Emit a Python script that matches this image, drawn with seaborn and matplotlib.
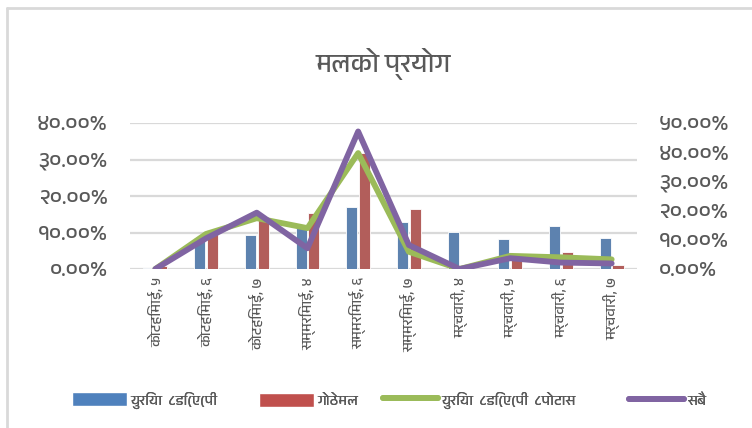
import warnings
warnings.filterwarnings("ignore")

import numpy as np
import pandas as pd
import matplotlib
matplotlib.use("Agg")
import matplotlib.pyplot as plt
import seaborn as sns
from matplotlib import font_manager
from matplotlib.ft2font import FT2Font
from matplotlib.patches import Patch
from matplotlib.lines import Line2D

# ── Data ───────────────────────────────────────────────────────────────────
categories = ["कोटहिमाई, ५", "कोटहिमाई, ६", "कोटहिमाई, ७",
              "सम्मरिमाई, ४", "सम्मरिमाई, ६", "सम्मरिमाई, ७",
              "मर्चवारी, ४", "मर्चवारी, ५", "मर्चवारी, ६", "मर्चवारी, ७"]
series_names = ["युरिया  ८डि(ए(पी", "गोठेमल", "युरिया  ८डि(ए(पी  ८पोटास", "सबै"]
urea_dap   = [0.3, 8.6, 9.4, 11.2, 17.0, 12.9, 10.1, 8.1, 11.8, 8.4]
gothemal   = [0.8, 10.7, 13.5, 15.4, 31.9, 16.5, 0.0, 3.0, 4.7, 1.2]
urea_dap_k = [0.0, 12.0, 17.4, 14.0, 39.7, 5.9, 0.0, 4.5, 4.0, 3.3]
sabai      = [0.0, 10.5, 19.3, 7.1, 47.1, 8.2, 0.0, 3.7, 2.2, 1.9]
left_ticks  = [0, 10, 20, 30, 40]
right_ticks = [0, 10, 20, 30, 40, 50]
title = "मलको प्रयोग"

COLORS = {"blue": "#4F81BD", "red": "#C0504D", "green": "#9BBB59",
          "purple": "#8064A2", "text": "#595959", "grid": "#D9D9D9"}

W, H = 752, 428


def find_dev_font():
    """Pick an installed font that has Devanagari glyphs."""
    names = []
    for f in font_manager.fontManager.ttflist:
        try:
            if 0x092E in FT2Font(f.fname).get_charmap():
                names.append(f.name)
        except Exception:
            pass
    names.sort(key=lambda n: ("Devanagari" not in n, n))
    return names[0] if names else "DejaVu Sans"


DEV_DIGITS = str.maketrans("0123456789", "०१२३४५६७८९")

def pct_label(v):
    return f"{v:.2f}%".translate(DEV_DIGITS)


sns.set_theme(style="white")
plt.rcParams["font.family"] = [find_dev_font(), "DejaVu Sans"]

df_bars = pd.DataFrame({
    "cat": categories * 2,
    "val": urea_dap + gothemal,
    "series": [series_names[0]] * len(categories) + [series_names[1]] * len(categories),
})

fig = plt.figure(figsize=(W / 100, H / 100), dpi=100)
ax = fig.add_axes([130 / W, 1 - 269 / H, 507 / W, 146 / H])

# ── Bars (primary axis) ────────────────────────────────────────────────────
sns.barplot(data=df_bars, x="cat", y="val", hue="series", order=categories,
            palette=[COLORS["blue"], COLORS["red"]], width=0.5, gap=0.12,
            edgecolor="white", linewidth=0.6, legend=False, ax=ax)
ax.set_ylim(0, 40)
ax.set_yticks(left_ticks)
ax.set_yticklabels([pct_label(t) for t in left_ticks], fontsize=16, color=COLORS["text"])
ax.yaxis.grid(True, color=COLORS["grid"], linewidth=1.6)
ax.set_axisbelow(True)
ax.set_xlabel(""); ax.set_ylabel("")
ax.tick_params(axis="y", length=0, pad=16)
ax.tick_params(axis="x", length=0, pad=6)
ax.set_xticks(range(len(categories)))
ax.set_xticklabels(categories, rotation=90, fontsize=10.5, color=COLORS["text"], va="top")
for s in ax.spines.values():
    s.set_visible(False)

# ── Lines (secondary axis) ─────────────────────────────────────────────────
ax2 = ax.twinx()
x = np.arange(len(categories))
sns.lineplot(x=x, y=urea_dap_k, color=COLORS["green"], linewidth=4.2, ax=ax2)
sns.lineplot(x=x, y=sabai, color=COLORS["purple"], linewidth=4.2, ax=ax2)
ax2.set_ylim(0, 50)
ax2.set_yticks(right_ticks)
ax2.set_yticklabels([pct_label(t) for t in right_ticks], fontsize=16, color=COLORS["text"])
ax2.tick_params(axis="y", length=0, pad=16)
ax2.set_ylabel("")
for s in ax2.spines.values():
    s.set_visible(False)
ax.set_xlim(-0.5, len(categories) - 0.5)

fig.text(383 / W, 1 - 64 / H, title, ha="center", va="center",
         fontsize=19, color=COLORS["text"])

# ── Legend: one entry per box, placed like the original ────────────────────
handles = [Patch(facecolor=COLORS["blue"]), Patch(facecolor=COLORS["red"]),
           Line2D([], [], color=COLORS["green"], linewidth=4.2, solid_capstyle="round"),
           Line2D([], [], color=COLORS["purple"], linewidth=4.2, solid_capstyle="round")]
legend_x = [72, 259, 383, 629]
for h, name, lx in zip(handles, series_names, legend_x):
    leg = fig.legend([h], [name], loc="center left",
                     bbox_to_anchor=(lx / W, 1 - 400 / H), frameon=False,
                     fontsize=10.5, handlelength=3.8, handleheight=1.1,
                     handletextpad=0.2, borderpad=0, borderaxespad=0,
                     labelcolor=COLORS["text"])
    fig.add_artist(leg)

# chart-area border (left and top edges visible)
fig.add_artist(Line2D([7 / W, 7 / W], [0, 1 - 8 / H], transform=fig.transFigure,
                      color=COLORS["grid"], linewidth=2))
fig.add_artist(Line2D([7 / W, 1], [1 - 8 / H, 1 - 8 / H], transform=fig.transFigure,
                      color=COLORS["grid"], linewidth=2))

fig.savefig("out.png", dpi=100, facecolor="white")
